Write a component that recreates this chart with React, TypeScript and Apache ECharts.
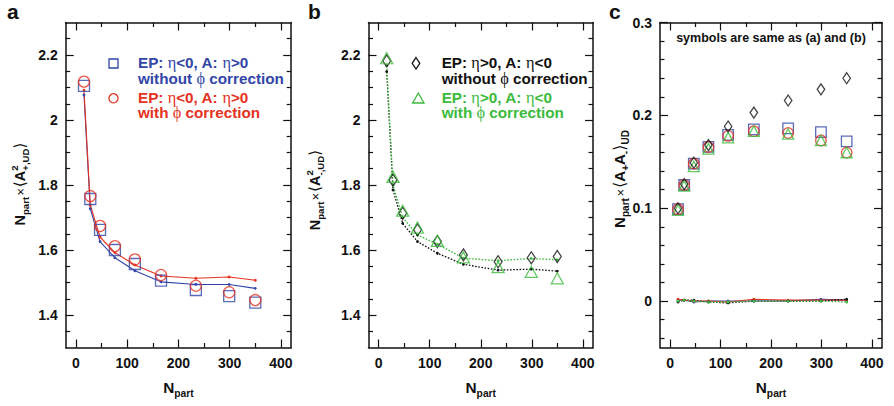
import React, { useEffect, useRef } from "react";
import * as echarts from "echarts";

// ---------- data ----------
const npart = [15.7, 28, 47, 76, 115, 166, 234, 299, 350];

// panel a: EP eta<0, A eta>0
const aSquares = [2.105, 1.757, 1.662, 1.6, 1.557, 1.506, 1.477, 1.458, 1.438];
const aCircles = [2.118, 1.766, 1.674, 1.612, 1.571, 1.523, 1.49, 1.47, 1.446];
const aBlueLine = [2.077, 1.727, 1.626, 1.576, 1.536, 1.502, 1.494, 1.494, 1.482];
const aRedLine = [2.092, 1.738, 1.64, 1.592, 1.554, 1.52, 1.513, 1.517, 1.507];

// panel b: EP eta>0, A eta<0
const bDiamonds = [2.182, 1.815, 1.713, 1.662, 1.626, 1.585, 1.564, 1.576, 1.58];
const bTriangles = [2.19, 1.825, 1.721, 1.669, 1.628, 1.577, 1.547, 1.533, 1.513];
const bBlackLine = [2.149, 1.785, 1.682, 1.626, 1.59, 1.556, 1.538, 1.541, 1.535];
const bGreenLine = [2.168, 1.8, 1.7, 1.646, 1.618, 1.575, 1.567, 1.574, 1.57];

// panel c: N_part x <A+ A->_UD
const cSquares = [0.099, 0.125, 0.148, 0.166, 0.179, 0.185, 0.186, 0.182, 0.172];
const cCircles = [0.099, 0.125, 0.148, 0.166, 0.178, 0.183, 0.181, 0.173, 0.16];
const cTriangles = [0.098, 0.124, 0.145, 0.164, 0.176, 0.183, 0.18, 0.173, 0.16];
const cDiamonds = [0.1, 0.126, 0.149, 0.168, 0.188, 0.203, 0.216, 0.228, 0.24];
const cBlueLine = [0.001, 0.001, -0.001, 0.0, 0.0, 0.0, 0.0, 0.002, 0.001];
const cRedLine = [0.002, 0.001, 0.0, 0.0, -0.001, 0.002, 0.001, 0.001, 0.001];
const cBlackLine = [-0.001, 0.001, 0.001, -0.001, -0.002, 0.0, 0.0, 0.0, 0.002];
const cGreenLine = [0.0, 0.001, 0.0, -0.001, -0.001, 0.0, 0.0, 0.0, -0.001];

// ticks
const xMajor = [0, 100, 200, 300, 400];
const xMinor = [50, 150, 250, 350];
const abYMajor = [1.4, 1.6, 1.8, 2.0, 2.2];
const abYMinor = [1.35, 1.45, 1.5, 1.55, 1.65, 1.7, 1.75, 1.85, 1.9, 1.95, 2.05, 2.1, 2.15, 2.25];
const cYMajor = [0, 0.1, 0.2, 0.3];
const cYMinor = [-0.04, -0.02, 0.02, 0.04, 0.06, 0.08, 0.12, 0.14, 0.16, 0.18, 0.22, 0.24, 0.26, 0.28];

// legend texts: [text, isGreek]
type Part = [string, boolean];
const epNegLine: Part[] = [["EP: ", false], ["η", true], ["<0, A: ", false], ["η", true], [">0", false]];
const epPosLine: Part[] = [["EP: ", false], ["η", true], [">0, A: ", false], ["η", true], ["<0", false]];
const withoutLine: Part[] = [["without ", false], ["ϕ", true], [" correction", false]];
const withLine: Part[] = [["with ", false], ["ϕ", true], [" correction", false]];
const noteText = "symbols are same as (a) and (b)";

// ---------- style ----------
const SANS = "'Liberation Sans', Arial, Helvetica, sans-serif";
const SERIF = "'Liberation Serif', 'Times New Roman', serif";
const BR = "'DejaVu Sans', sans-serif";
const BLUE = "#3246a8";
const RED = "#e53222";
const GREEN = "#3cba3c";
const BLACK = "#111111";

let measureCtx: CanvasRenderingContext2D | null = null;
function textWidth(t: string, size: number, weight: string, family: string) {
  if (!measureCtx) measureCtx = document.createElement("canvas").getContext("2d");
  if (!measureCtx) return t.length * size * 0.6;
  measureCtx.font = `${weight} ${size}px ${family}`;
  return measureCtx.measureText(t).width;
}

type Piece = {
  t: string;
  size: number;
  weight?: string;
  family?: string;
  shift?: number;
  keep?: boolean;
  gap?: number;
};

function layoutPieces(pieces: Piece[], color: string) {
  let x = 0;
  const children: any[] = [];
  for (const p of pieces) {
    const weight = p.weight || "bold";
    const family = p.family || SANS;
    x += p.gap || 0;
    const w = textWidth(p.t, p.size, weight, family);
    children.push({
      type: "text",
      x,
      y: (p.shift || 0) - 0.35 * p.size,
      silent: true,
      style: {
        text: p.t,
        fontSize: p.size,
        fontWeight: weight,
        fontFamily: family,
        fill: color,
        align: "left",
        verticalAlign: "middle",
      },
    });
    if (!p.keep) x += w;
  }
  return { children, width: x };
}

function scalePieces(pieces: Piece[], k: number): Piece[] {
  return pieces.map((p) => ({ ...p, size: p.size * k, shift: (p.shift || 0) * k, gap: (p.gap || 0) * k }));
}

function fitFactor(pieces: Piece[], target: number) {
  const { width } = layoutPieces(pieces, BLACK);
  return width > 0 ? target / width : 1;
}

function hText(pieces: Piece[], color: string, x: number, baseline: number, center = false) {
  const { children, width } = layoutPieces(pieces, color);
  return { type: "group", x: center ? x - width / 2 : x, y: baseline, children };
}

function vText(pieces: Piece[], color: string, baselineX: number, centerY: number) {
  const { children, width } = layoutPieces(pieces, color);
  return { type: "group", x: baselineX, y: centerY + width / 2, rotation: Math.PI / 2, children };
}

// two-line rich-text legend entry
const LEG_LH = 15.2;
function richEntry(lines: Part[][], color: string, size: number, x: number, baseline1: number) {
  const text = lines
    .map((parts) => parts.map(([t, g]) => `{${g ? "g" : "b"}|${t}}`).join(""))
    .join("\n");
  return {
    type: "text",
    x,
    y: baseline1 - LEG_LH / 2 - 0.35 * size,
    silent: true,
    style: {
      text,
      align: "left",
      verticalAlign: "top",
      rich: {
        b: { fontSize: size, fontWeight: "bold", fontFamily: SANS, fill: color, lineHeight: LEG_LH },
        g: { fontSize: size * 1.07, fontWeight: "normal", fontFamily: SERIF, fill: color, lineHeight: LEG_LH },
      },
    },
  };
}

function legendPieces(parts: Part[], size: number): Piece[] {
  return parts.map(([t, g]) =>
    g ? { t, size: size * 1.07, weight: "normal", family: SERIF } : { t, size }
  );
}

const TS = 15;
const SS = 10;
const sub = (t: string): Piece => ({ t, size: SS, shift: 3.5 });
const supKeep = (t: string): Piece => ({ t, size: SS, shift: -7, keep: true });
const times: Piece = { t: "×", size: 13, weight: "normal", gap: 1.5 };
const lang: Piece = { t: "⟨", size: 16, weight: "normal", family: BR, gap: 1 };
const rang: Piece = { t: "⟩", size: 16, weight: "normal", family: BR };
const N: Piece = { t: "N", size: TS };
const A: Piece = { t: "A", size: TS };

const xTitle: Piece[] = [N, { t: "part", size: SS, shift: 4 }];
const aYTitle: Piece[] = [N, sub("part"), times, lang, A, supKeep("2"), sub("+,UD"), rang];
const bYTitle: Piece[] = [N, sub("part"), times, lang, A, supKeep("2"), sub("-,UD"), rang];
const cYTitle: Piece[] = [N, sub("part"), times, lang, A, sub("+"), A, sub("-"), rang, sub("UD")];

// ---------- grids ----------
const GRIDS = [
  { left: 65.7, top: 22.5, width: 225.5, height: 325 },
  { left: 368.5, top: 22.5, width: 224.5, height: 325 },
  { left: 660, top: 22.5, width: 222, height: 325 },
];

function axisBase(g: number, position: string, min: number, max: number, values: number[], len: number, labels: boolean, line: boolean) {
  return {
    type: "value",
    gridIndex: g,
    position,
    min,
    max,
    axisLine: { show: line, onZero: false, lineStyle: { color: BLACK, width: 1.5 } },
    axisTick: { show: true, inside: true, length: len, customValues: values, lineStyle: { color: BLACK, width: 1.2 } },
    axisLabel: {
      show: labels,
      customValues: values,
      margin: 8,
      fontSize: 14,
      fontWeight: "bold",
      fontFamily: SANS,
      color: BLACK,
    },
    splitLine: { show: false },
  };
}

function xAxes(g: number) {
  return [
    axisBase(g, "bottom", -20, 420, xMajor, 8, true, true),
    axisBase(g, "bottom", -20, 420, xMinor, 4.5, false, false),
    axisBase(g, "top", -20, 420, xMajor, 8, false, true),
    axisBase(g, "top", -20, 420, xMinor, 4.5, false, false),
  ];
}

function yAxes(g: number, min: number, max: number, major: number[], minor: number[]) {
  return [
    axisBase(g, "left", min, max, major, 8, true, true),
    axisBase(g, "left", min, max, minor, 4.5, false, false),
    axisBase(g, "right", min, max, major, 8, false, true),
    axisBase(g, "right", min, max, minor, 4.5, false, false),
  ];
}

const pairs = (ys: number[]) => npart.map((x, i) => [x, ys[i]]);

function lineSeries(g: number, ys: number[], color: string, dotted: boolean) {
  return {
    type: "line",
    xAxisIndex: 4 * g,
    yAxisIndex: 4 * g,
    data: pairs(ys),
    symbol: "circle",
    symbolSize: 2.8,
    showSymbol: true,
    itemStyle: { color },
    lineStyle: { color, width: dotted ? 1.3 : 1.1, type: dotted ? [1.6, 1.6] : "solid" },
    z: 3,
  };
}

function markerSeries(g: number, ys: number[], color: string, symbol: string, size: number | number[]) {
  return {
    type: "scatter",
    xAxisIndex: 4 * g,
    yAxisIndex: 4 * g,
    data: pairs(ys),
    symbol,
    symbolSize: size,
    itemStyle: { color: "rgba(0,0,0,0)", borderColor: color, borderWidth: 1.3 },
    z: 4,
  };
}

function buildOption() {
  const legSize = 14 * fitFactor(legendPieces(withoutLine, 14), 146);
  const kTitle = fitFactor(aYTitle, 83);
  const kTitleC = fitFactor(cYTitle, 98);
  const xT = scalePieces(xTitle, fitFactor(xTitle, 30.5));

  const graphic: any[] = [
    hText([{ t: "a", size: 21 }], BLACK, 7, 19),
    hText([{ t: "b", size: 21 }], BLACK, 308, 19),
    hText([{ t: "c", size: 21 }], BLACK, 609, 19),
    hText(xT, BLACK, GRIDS[0].left + GRIDS[0].width / 2, 392.5, true),
    hText(xT, BLACK, GRIDS[1].left + GRIDS[1].width / 2, 392.5, true),
    hText(xT, BLACK, GRIDS[2].left + GRIDS[2].width / 2, 392.5, true),
    vText(scalePieces(aYTitle, kTitle), BLACK, 25, 184),
    vText(scalePieces(bYTitle, kTitle), BLACK, 320, 190),
    vText(scalePieces(cYTitle, kTitleC), BLACK, 625, 179),
    // panel a legend
    { type: "rect", silent: true, shape: { x: 109, y: 59, width: 9, height: 9 }, style: { fill: "none", stroke: BLUE, lineWidth: 1.3 } },
    richEntry([epNegLine, withoutLine], BLUE, legSize, 138, 68.3),
    { type: "circle", silent: true, shape: { cx: 113.5, cy: 98.3, r: 4.6 }, style: { fill: "none", stroke: RED, lineWidth: 1.3 } },
    richEntry([epNegLine, withLine], RED, legSize, 138, 103),
    // panel b legend
    {
      type: "polygon",
      silent: true,
      shape: { points: [[416, 57.5], [419.8, 63.3], [416, 69.1], [412.2, 63.3]] },
      style: { fill: "none", stroke: BLACK, lineWidth: 1.3 },
    },
    richEntry([epPosLine, withoutLine], BLACK, legSize, 441.7, 68.3),
    {
      type: "polygon",
      silent: true,
      shape: { points: [[418.3, 93], [424, 103], [412.6, 103]] },
      style: { fill: "none", stroke: GREEN, lineWidth: 1.3 },
    },
    richEntry([epPosLine, withLine], GREEN, legSize, 441.7, 103),
    // panel c note
    hText([{ t: noteText, size: 12.5 }], BLACK, GRIDS[2].left + GRIDS[2].width / 2, 42.7, true),
  ];

  return {
    animation: false,
    backgroundColor: "#ffffff",
    textStyle: { fontFamily: SANS },
    grid: GRIDS.map((g) => ({ ...g, containLabel: false })),
    xAxis: [...xAxes(0), ...xAxes(1), ...xAxes(2)],
    yAxis: [
      ...yAxes(0, 1.3, 2.3, abYMajor, abYMinor),
      ...yAxes(1, 1.3, 2.3, abYMajor, abYMinor),
      ...yAxes(2, -0.05, 0.3, cYMajor, cYMinor),
    ],
    series: [
      lineSeries(0, aBlueLine, BLUE, false),
      lineSeries(0, aRedLine, RED, false),
      markerSeries(0, aSquares, BLUE, "rect", 11),
      markerSeries(0, aCircles, RED, "circle", 11),
      lineSeries(1, bBlackLine, BLACK, true),
      lineSeries(1, bGreenLine, GREEN, true),
      markerSeries(1, bDiamonds, BLACK, "diamond", [8, 12]),
      markerSeries(1, bTriangles, GREEN, "triangle", [12, 11]),
      lineSeries(2, cBlueLine, BLUE, false),
      lineSeries(2, cRedLine, RED, false),
      lineSeries(2, cBlackLine, BLACK, true),
      lineSeries(2, cGreenLine, GREEN, true),
      markerSeries(2, cSquares, BLUE, "rect", 10.5),
      markerSeries(2, cCircles, RED, "circle", 10.5),
      markerSeries(2, cTriangles, GREEN, "triangle", [11, 10.5]),
      markerSeries(2, cDiamonds, BLACK, "diamond", [7.5, 11]),
    ],
    graphic,
  };
}

export default function App() {
  const ref = useRef<HTMLDivElement>(null);
  useEffect(() => {
    if (!ref.current) return;
    const chart = echarts.init(ref.current, null, { renderer: "svg" });
    chart.setOption(buildOption() as any);
    return () => chart.dispose();
  }, []);
  return (
    <div
      ref={ref}
      style={{ position: "absolute", left: 0, top: 0, width: 894, height: 406, background: "#fff" }}
    />
  );
}
